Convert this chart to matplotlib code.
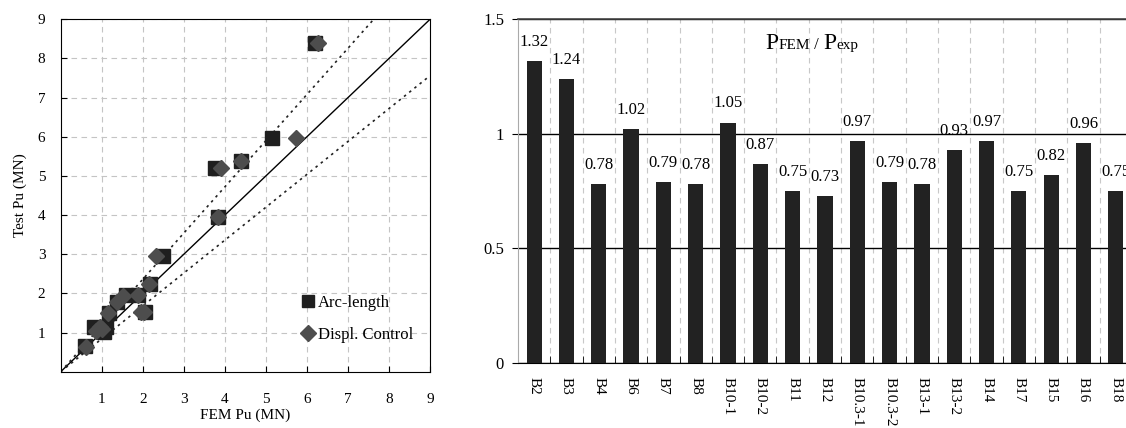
import matplotlib.pyplot as plt
from matplotlib.offsetbox import TextArea, HPacker, AnchoredOffsetbox

plt.rcParams['font.family'] = ['Liberation Serif', 'DejaVu Serif']

# left panel: FEM vs test ultimate loads (MN)
arc_fem = [6.2, 5.16, 4.39, 3.76, 3.84, 2.49, 2.18, 2.06, 1.89, 1.6, 1.38, 1.18, 0.8, 1.1, 1.05, 0.59]
arc_test = [8.4, 5.98, 5.38, 5.2, 3.96, 2.96, 2.23, 1.53, 1.95, 1.95, 1.77, 1.5, 1.15, 1.15, 1.02, 0.66]
dc_fem = [6.28, 5.74, 4.39, 3.9, 3.84, 2.32, 2.14, 1.95, 2.02, 1.89, 1.53, 1.38, 1.16, 0.85, 0.95, 1.0, 0.62]
dc_test = [8.4, 5.98, 5.38, 5.2, 3.96, 2.96, 2.24, 1.53, 1.53, 1.95, 1.93, 1.77, 1.51, 1.05, 1.15, 1.08, 0.64]
bound_slopes = [1.18, 0.84]
axis_ticks = [1, 2, 3, 4, 5, 6, 7, 8, 9]

# right panel: P_FEM / P_exp ratios
beams = ['B2', 'B3', 'B4', 'B6', 'B7', 'B8', 'B10-1', 'B10-2', 'B11', 'B12',
         'B10.3-1', 'B10.3-2', 'B13-1', 'B13-2', 'B14', 'B17', 'B15', 'B16', 'B18']
ratios = [1.32, 1.24, 0.78, 1.02, 0.79, 0.78, 1.05, 0.87, 0.75, 0.73,
          0.97, 0.79, 0.78, 0.93, 0.97, 0.75, 0.82, 0.96, 0.75]
ratio_ticks = [0, 0.5, 1, 1.5]

fig = plt.figure(figsize=(11.26, 4.28), dpi=100)

# ---- scatter panel ----
ax1 = fig.add_axes([0.0539, 0.1315, 0.328, 0.8234])
ax1.plot([0, 9], [0, 9], color='black', lw=1.0, zorder=2)
for s in bound_slopes:
    if s > 1:
        ax1.plot([0, 9 / s], [0, 9], color='#222222', lw=1.2, ls=(0, (1.5, 2.5)), zorder=2)
    else:
        ax1.plot([0, 9], [0, 9 * s], color='#222222', lw=1.2, ls=(0, (1.5, 2.5)), zorder=2)
ax1.plot(arc_fem, arc_test, 's', color='#1f1f1f', ms=9.5, ls='none', label='Arc-length', zorder=3)
ax1.plot(dc_fem, dc_test, 'D', color='#4d4d4d', ms=8.5, ls='none', label='Displ. Control', zorder=4)
ax1.set_xlim(0, 9)
ax1.set_ylim(0, 9)
ax1.set_xticks(axis_ticks)
ax1.set_yticks(axis_ticks)
ax1.grid(True, color='#c4c4c4', ls=(0, (5, 4)), lw=0.8)
ax1.set_axisbelow(True)
ax1.tick_params(direction='in', length=4, labelsize=11, color='black')
ax1.tick_params(axis='x', pad=15)
ax1.tick_params(axis='y', pad=11)
ax1.set_xlabel('FEM Pu (MN)', fontsize=11, labelpad=2)
ax1.set_ylabel('Test Pu (MN)', fontsize=11, labelpad=8)
ax1.legend(loc='center left', bbox_to_anchor=(0.61, 0.15), frameon=False, fontsize=12,
           handlelength=0.8, handletextpad=0.2, labelspacing=1.0, markerscale=0.9)

# ---- bar panel ----
ax2 = fig.add_axes([0.460, 0.1519, 0.5453, 0.8026])
x = list(range(len(beams)))
ax2.bar(x, ratios, width=0.47, color='#222222', zorder=3)
for xi, v in zip(x, ratios):
    ax2.annotate(f'{v:.2f}', (xi, v), xytext=(0, 8), textcoords='offset points',
                 ha='center', va='bottom', fontsize=12, zorder=4)
ax2.set_xlim(-0.5, len(beams) - 0.5)
ax2.set_ylim(0, 1.5)
ax2.set_yticks(ratio_ticks)
ax2.set_yticklabels(['0', '0.5', '1', '1.5'])
ax2.set_xticks(x)
ax2.set_xticklabels(beams, rotation=270, fontsize=11)
ax2.set_xticks([i + 0.5 for i in x[:-1]], minor=True)
ax2.tick_params(axis='x', which='major', length=0, pad=10)
ax2.tick_params(axis='x', which='minor', direction='in', length=5, color='black')
ax2.tick_params(axis='y', direction='out', length=4, labelsize=12, pad=6)
ax2.grid(True, axis='x', which='minor', color='#c8c8c8', ls=(0, (5, 4)), lw=0.8)
ax2.grid(True, axis='y', which='major', color='black', lw=1.0)
ax2.set_axisbelow(True)
ax2.spines['left'].set_color('#aaaaaa')
ax2.spines['right'].set_visible(False)
ax2.spines['top'].set_color('#444444')
ax2.spines['top'].set_linewidth(1.2)

parts = [TextArea('P', textprops=dict(fontsize=17)),
         TextArea('FEM', textprops=dict(fontsize=11)),
         TextArea(' / ', textprops=dict(fontsize=12)),
         TextArea('P', textprops=dict(fontsize=17)),
         TextArea('exp', textprops=dict(fontsize=11))]
title = HPacker(children=parts, align='baseline', pad=0, sep=0)
ab = AnchoredOffsetbox(loc='center', child=title, bbox_to_anchor=(0.479, 0.93),
                       bbox_transform=ax2.transAxes, frameon=False, pad=0)
ax2.add_artist(ab)

fig.savefig('out.png', dpi=100)
